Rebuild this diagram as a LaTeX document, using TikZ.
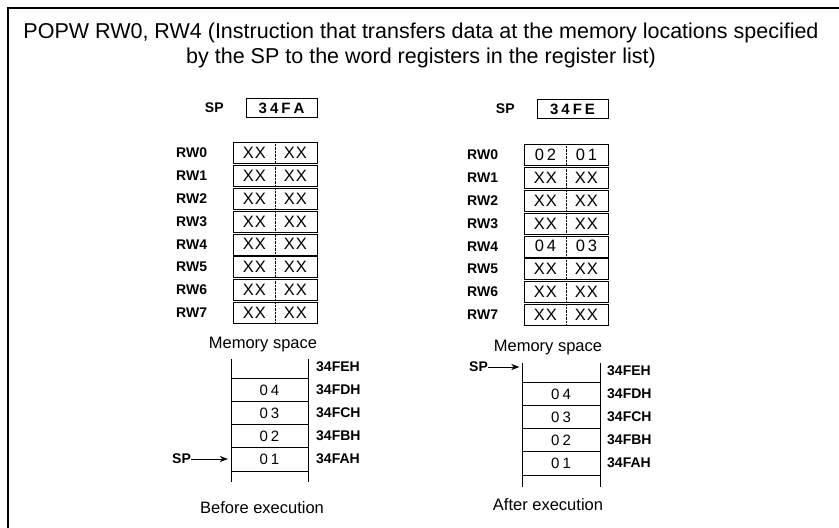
\documentclass[tikz,border=0pt]{standalone}
\usepackage{fontspec}
\setmainfont{Liberation Sans}
\usetikzlibrary{positioning,arrows.meta}

\tikzset{
  headline/.style={font=\fontsize{21.5}{24}\selectfont},
  reglabel/.style={anchor=west, inner sep=0pt, font=\bfseries\fontsize{14}{16}\selectfont},
  regcell/.style={draw, minimum width=84pt, minimum height=21pt, inner sep=0pt},
  halfval/.style={inner sep=0pt, font=\fontsize{16.5}{18}\selectfont},
  spcell/.style={draw, minimum width=71pt, minimum height=19pt, inner sep=0pt, font=\bfseries\fontsize{15}{17}\selectfont},
  caption/.style={font=\fontsize{16.5}{18}\selectfont},
  memcell/.style={minimum width=77pt, minimum height=23pt, inner sep=0pt, font=\fontsize{15}{17}\selectfont},
  addr/.style={anchor=west, inner sep=0pt, font=\bfseries\fontsize{14}{16}\selectfont},
  ptr/.style={-{Stealth[length=8pt,width=6pt]}, shorten >=3pt},
}
\newcommand{\xx}{X\kern1pt X}
\newcommand{\dd}[2]{#1\kern3pt #2}

\begin{document}
\begin{tikzpicture}[x=1pt, y=-1pt]
\useasboundingbox (0,0) rectangle (839,528);
\draw[line width=2.4pt] (8,528) -- (8,8) -- (839,8);

\node[headline] (head1) at (421,33) {POPW RW0, RW4 (Instruction that transfers data at the memory locations specified};
\node[headline] (head2) at (421,58) {by the SP to the word registers in the register list)};

% before execution
\node[spcell] (spvalA) at (281.5,108) {\dd{3}{\dd{4}{\dd{F}{A}}}};
\node[reglabel] (spA) [left=22pt of spvalA] {SP};
\foreach \i in {0,...,7} {
  \node[regcell] (regA\i) at (275,153+22.8*\i) {};
  \node[reglabel] (lblA\i) at (176,153+22.8*\i) {RW\i};
  \draw[densely dotted] (regA\i.north) -- (regA\i.south);
  \node[halfval] (hiA\i) at ([xshift=-20.5pt]regA\i.center) {\xx};
  \node[halfval] (loA\i) at ([xshift=20.5pt]regA\i.center) {\xx};
}
\node[caption] (memA) at (263,345) {Memory space};

\foreach \a/\v [count=\k] in {FE/{}, FD/{\dd04}, FC/{\dd03}, FB/{\dd02}, FA/{\dd01}} {
  \node[memcell] (cellA\a) at (269.5,344+23*\k) {\v};
  \node[addr] (addrA\a) at (316,344+23*\k) {34\a H};
}
\foreach \a in {FD,FC,FB,FA} {
  \draw (cellA\a.north west) -- (cellA\a.north east);
}
\draw (cellAFA.south west) -- (cellAFA.south east);
\coordinate (topA) at (0,359);
\coordinate (botA) at (0,482);
\draw (cellAFE.west |- topA) -- (cellAFE.west |- botA);
\draw (cellAFE.east |- topA) -- (cellAFE.east |- botA);
\node[reglabel] (ptrA) at (172,459) {SP};
\draw[ptr] (ptrA) -- (cellAFA.west);
\node[caption] (capA) at (262,508) {Before execution};

% after execution
\node[spcell] (spvalB) at (572.5,109) {\dd{3}{\dd{4}{\dd{F}{E}}}};
\node[reglabel] (spB) [left=22pt of spvalB] {SP};
\foreach \i/\hi/\lo in {0/{\dd02}/{\dd01}, 1/\xx/\xx, 2/\xx/\xx, 3/\xx/\xx, 4/{\dd04}/{\dd03}, 5/\xx/\xx, 6/\xx/\xx, 7/\xx/\xx} {
  \node[regcell] (regB\i) at (566,155+22.8*\i) {};
  \node[reglabel] (lblB\i) at (467,155+22.8*\i) {RW\i};
  \draw[densely dotted] (regB\i.north) -- (regB\i.south);
  \node[halfval] (hiB\i) at ([xshift=-20.5pt]regB\i.center) {\hi};
  \node[halfval] (loB\i) at ([xshift=20.5pt]regB\i.center) {\lo};
}
\node[caption] (memB) at (548,348) {Memory space};

\foreach \a/\v [count=\k] in {FE/{}, FD/{\dd04}, FC/{\dd03}, FB/{\dd02}, FA/{\dd01}} {
  \node[memcell] (cellB\a) at (561,348+23*\k) {\v};
  \node[addr] (addrB\a) at (607,348+23*\k) {34\a H};
}
\foreach \a in {FD,FC,FB,FA} {
  \draw (cellB\a.north west) -- (cellB\a.north east);
}
\draw (cellBFA.south west) -- (cellBFA.south east);
\coordinate (topB) at (0,363);
\coordinate (botB) at (0,487);
\draw (cellBFE.west |- topB) -- (cellBFE.west |- botB);
\draw (cellBFE.east |- topB) -- (cellBFE.east |- botB);
\node[reglabel] (ptrB) at (469,367) {SP};
\draw[ptr] (ptrB) -- (cellBFE.west |- ptrB);
\node[caption] (capB) at (548,505) {After execution};
\end{tikzpicture}
\end{document}
